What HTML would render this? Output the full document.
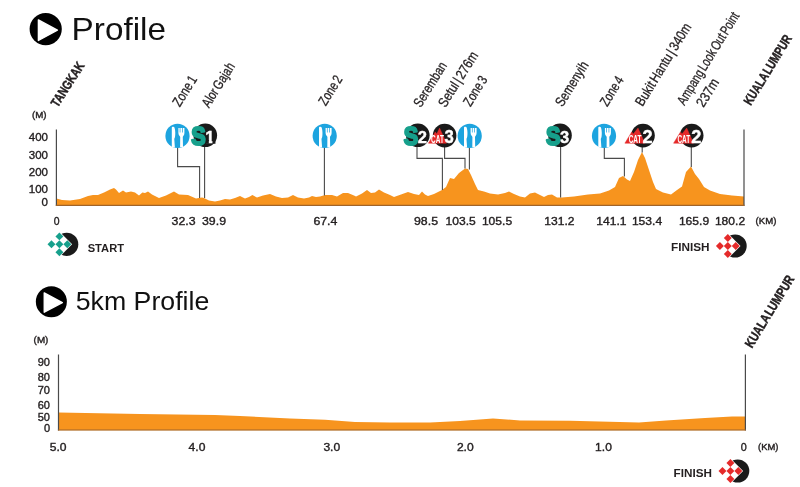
<!DOCTYPE html>
<html lang="en"><head><meta charset="utf-8"><title>Profile</title>
<style>html,body{margin:0;padding:0;background:#fff;}body{width:800px;height:487px;overflow:hidden;}svg{display:block;font-family:"Liberation Sans",sans-serif;}</style>
</head><body>
<svg width="800" height="487" viewBox="0 0 800 487">
<rect width="800" height="487" fill="#fff"/>
<circle cx="45.70" cy="29.10" r="16.10" fill="#000"/>
<path d="M38.40,19.90 L38.40,40.50 L57.40,30.20 Z" fill="#fff" stroke="#fff" stroke-width="1.4" stroke-linejoin="round"/>
<text x="71.6" y="40.1" font-size="31.2" fill="#111" textLength="94.4" lengthAdjust="spacingAndGlyphs">Profile</text>
<circle cx="51.35" cy="301.70" r="15.50" fill="#000"/>
<path d="M44.25,292.90 L44.25,312.20 L62.36,302.55 Z" fill="#fff" stroke="#fff" stroke-width="1.4" stroke-linejoin="round"/>
<text x="75.7" y="310" font-size="26.2" fill="#111" textLength="133.6" lengthAdjust="spacingAndGlyphs">5km Profile</text>
<path d="M56.4,205.8 L56.4,198.6 L62.0,200.0 L70.0,200.4 L80.0,199.0 L88.0,196.0 L93.0,195.0 L98.0,195.0 L104.0,192.4 L110.0,189.4 L114.0,188.0 L116.0,189.4 L119.0,193.0 L123.0,190.6 L126.0,192.6 L131.0,191.6 L135.0,192.6 L139.0,195.6 L142.4,192.4 L145.0,193.0 L148.0,191.6 L152.0,194.4 L159.0,198.0 L166.0,195.6 L174.0,191.6 L179.0,194.4 L188.0,195.0 L196.0,198.6 L202.0,197.4 L204.0,198.0 L209.0,200.4 L215.0,201.6 L220.0,200.4 L225.0,199.0 L230.0,199.4 L235.0,198.0 L240.0,196.0 L245.0,198.6 L249.0,197.0 L252.4,195.0 L257.0,197.6 L263.0,195.6 L270.0,194.0 L276.0,196.4 L282.0,198.0 L288.0,197.6 L293.0,195.0 L298.0,197.4 L304.0,198.6 L309.0,197.6 L312.0,196.0 L316.0,197.0 L320.0,196.4 L325.0,195.0 L332.0,195.0 L337.0,196.4 L343.0,193.0 L348.0,193.0 L354.0,195.6 L356.0,196.4 L362.0,193.6 L367.0,190.0 L371.0,193.0 L375.0,192.4 L379.0,189.4 L384.0,192.4 L390.0,195.0 L394.0,197.0 L401.0,194.4 L408.0,192.0 L414.0,194.0 L419.0,195.0 L422.0,191.6 L425.0,194.4 L428.0,196.0 L434.0,194.0 L442.0,190.0 L446.0,187.0 L450.0,178.0 L454.0,179.0 L459.0,173.0 L465.0,168.4 L468.0,169.0 L471.0,175.0 L475.0,184.0 L478.0,190.0 L484.0,191.6 L490.0,193.6 L498.0,194.4 L505.0,193.0 L509.0,191.4 L514.0,194.0 L520.0,196.4 L525.0,197.4 L530.0,193.6 L535.0,192.6 L540.0,195.0 L544.0,197.0 L548.0,195.0 L552.0,194.6 L557.0,197.4 L562.0,197.4 L574.0,196.4 L588.0,194.4 L600.0,193.4 L609.0,190.6 L615.0,187.0 L619.0,178.0 L623.0,176.0 L627.0,179.6 L630.0,181.0 L634.0,172.0 L638.0,160.0 L642.0,152.0 L645.0,158.0 L649.0,170.0 L653.0,182.0 L656.0,189.0 L663.0,192.4 L671.0,194.4 L677.0,190.0 L682.0,186.4 L686.0,172.0 L691.0,166.6 L695.0,174.0 L699.0,179.0 L704.0,187.0 L710.0,190.6 L720.0,194.0 L732.0,195.4 L744.0,196.4 L744.0,205.8 Z" fill="#F7941E"/>
<path d="M56.4,129.5 V205.8 M744,129.5 V205.8" stroke="#4a4a4a" stroke-width="1.2" fill="none"/>
<path d="M55.8,205.4 H744.6" stroke="#a0642a" stroke-width="1.2" fill="none"/>
<path d="M177.6,140 V166.6 H199.6 V198 M204.6,140 V198 M324.4,140 V195.4 M417,140 V158.4 H442.4 V190 M444.6,140 V158.4 H465 V168.6 M469.4,140 V169.5 M560.6,140 V197.4 M604.3,140 V158.4 H624.4 V176.5 M642.2,140 V152.5 M691.3,140 V167" stroke="#4a4a4a" stroke-width="1.1" fill="none"/>
<text x="32.0" y="117.7" font-size="9" fill="#231f20" textLength="14.6" lengthAdjust="spacingAndGlyphs" stroke="#231f20" stroke-width="0.38">(M)</text>
<text x="48.0" y="141.2" font-size="11.5" fill="#231f20" text-anchor="end" stroke="#231f20" stroke-width="0.38">400</text>
<text x="48.0" y="158.8" font-size="11.5" fill="#231f20" text-anchor="end" stroke="#231f20" stroke-width="0.38">300</text>
<text x="48.0" y="176.0" font-size="11.5" fill="#231f20" text-anchor="end" stroke="#231f20" stroke-width="0.38">200</text>
<text x="48.0" y="193.3" font-size="11.5" fill="#231f20" text-anchor="end" stroke="#231f20" stroke-width="0.38">100</text>
<text x="48.0" y="206.2" font-size="11.5" fill="#231f20" text-anchor="end" stroke="#231f20" stroke-width="0.38">0</text>
<text x="53.7" y="225.4" font-size="11.5" fill="#231f20" textLength="5.8" lengthAdjust="spacingAndGlyphs" stroke="#231f20" stroke-width="0.38">0</text>
<text x="171.6" y="225.4" font-size="11.5" fill="#231f20" textLength="24.0" lengthAdjust="spacingAndGlyphs" stroke="#231f20" stroke-width="0.38">32.3</text>
<text x="202.0" y="225.4" font-size="11.5" fill="#231f20" textLength="24.0" lengthAdjust="spacingAndGlyphs" stroke="#231f20" stroke-width="0.38">39.9</text>
<text x="313.4" y="225.4" font-size="11.5" fill="#231f20" textLength="24.0" lengthAdjust="spacingAndGlyphs" stroke="#231f20" stroke-width="0.38">67.4</text>
<text x="414.0" y="225.4" font-size="11.5" fill="#231f20" textLength="24.0" lengthAdjust="spacingAndGlyphs" stroke="#231f20" stroke-width="0.38">98.5</text>
<text x="445.5" y="225.4" font-size="11.5" fill="#231f20" textLength="30.2" lengthAdjust="spacingAndGlyphs" stroke="#231f20" stroke-width="0.38">103.5</text>
<text x="481.9" y="225.4" font-size="11.5" fill="#231f20" textLength="30.2" lengthAdjust="spacingAndGlyphs" stroke="#231f20" stroke-width="0.38">105.5</text>
<text x="544.3" y="225.4" font-size="11.5" fill="#231f20" textLength="30.2" lengthAdjust="spacingAndGlyphs" stroke="#231f20" stroke-width="0.38">131.2</text>
<text x="596.3" y="225.4" font-size="11.5" fill="#231f20" textLength="30.2" lengthAdjust="spacingAndGlyphs" stroke="#231f20" stroke-width="0.38">141.1</text>
<text x="631.9" y="225.4" font-size="11.5" fill="#231f20" textLength="30.2" lengthAdjust="spacingAndGlyphs" stroke="#231f20" stroke-width="0.38">153.4</text>
<text x="678.9" y="225.4" font-size="11.5" fill="#231f20" textLength="30.2" lengthAdjust="spacingAndGlyphs" stroke="#231f20" stroke-width="0.38">165.9</text>
<text x="714.9" y="225.4" font-size="11.5" fill="#231f20" textLength="30.2" lengthAdjust="spacingAndGlyphs" stroke="#231f20" stroke-width="0.38">180.2</text>
<text x="755.6" y="224.2" font-size="9" fill="#231f20" textLength="20.8" lengthAdjust="spacingAndGlyphs" stroke="#231f20" stroke-width="0.38">(KM)</text>
<g transform="translate(177.5,135.9)"><circle r="12.1" fill="#1DA4DF"/><path d="M-5.7,-8.2 C-5.7,-9.4 -3.5,-9.5 -2.9,-8 C-2.0,-5.5 -2.1,-1 -2.5,1 C-2.8,2.2 -3.2,2.6 -3.2,3.4 L-2.6,11.5 L-5.7,11.5 Z" fill="#fff"/><path d="M0.9,-8.0 L2.2,-8.0 L2.2,-3.4 L2.9,-3.4 L2.9,-8.0 L4.6,-8.0 L4.6,-3.4 L5.3,-3.4 L5.3,-8.0 L6.9,-8.0 L6.9,-2.8 C6.9,-0.2 5.5,-0.1 5.3,1.2 L5.5,11.4 L2.6,11.4 L2.7,1.2 C2.5,-0.1 0.9,-0.2 0.9,-2.8 Z" fill="#fff"/></g>
<g transform="translate(324.7,135.9)"><circle r="12.1" fill="#1DA4DF"/><path d="M-5.7,-8.2 C-5.7,-9.4 -3.5,-9.5 -2.9,-8 C-2.0,-5.5 -2.1,-1 -2.5,1 C-2.8,2.2 -3.2,2.6 -3.2,3.4 L-2.6,11.5 L-5.7,11.5 Z" fill="#fff"/><path d="M0.9,-8.0 L2.2,-8.0 L2.2,-3.4 L2.9,-3.4 L2.9,-8.0 L4.6,-8.0 L4.6,-3.4 L5.3,-3.4 L5.3,-8.0 L6.9,-8.0 L6.9,-2.8 C6.9,-0.2 5.5,-0.1 5.3,1.2 L5.5,11.4 L2.6,11.4 L2.7,1.2 C2.5,-0.1 0.9,-0.2 0.9,-2.8 Z" fill="#fff"/></g>
<g transform="translate(469.7,135.9)"><circle r="12.1" fill="#1DA4DF"/><path d="M-5.7,-8.2 C-5.7,-9.4 -3.5,-9.5 -2.9,-8 C-2.0,-5.5 -2.1,-1 -2.5,1 C-2.8,2.2 -3.2,2.6 -3.2,3.4 L-2.6,11.5 L-5.7,11.5 Z" fill="#fff"/><path d="M0.9,-8.0 L2.2,-8.0 L2.2,-3.4 L2.9,-3.4 L2.9,-8.0 L4.6,-8.0 L4.6,-3.4 L5.3,-3.4 L5.3,-8.0 L6.9,-8.0 L6.9,-2.8 C6.9,-0.2 5.5,-0.1 5.3,1.2 L5.5,11.4 L2.6,11.4 L2.7,1.2 C2.5,-0.1 0.9,-0.2 0.9,-2.8 Z" fill="#fff"/></g>
<g transform="translate(604.0,135.9)"><circle r="12.1" fill="#1DA4DF"/><path d="M-5.7,-8.2 C-5.7,-9.4 -3.5,-9.5 -2.9,-8 C-2.0,-5.5 -2.1,-1 -2.5,1 C-2.8,2.2 -3.2,2.6 -3.2,3.4 L-2.6,11.5 L-5.7,11.5 Z" fill="#fff"/><path d="M0.9,-8.0 L2.2,-8.0 L2.2,-3.4 L2.9,-3.4 L2.9,-8.0 L4.6,-8.0 L4.6,-3.4 L5.3,-3.4 L5.3,-8.0 L6.9,-8.0 L6.9,-2.8 C6.9,-0.2 5.5,-0.1 5.3,1.2 L5.5,11.4 L2.6,11.4 L2.7,1.2 C2.5,-0.1 0.9,-0.2 0.9,-2.8 Z" fill="#fff"/></g>
<circle cx="205.3" cy="135.3" r="11.8" fill="#1a1a1a"/>
<text id="SN1" x="209.90" y="142.50" font-size="16.5" font-weight="bold" fill="#fff" stroke="#fff" stroke-width="0.4" text-anchor="middle">1</text>
<path d="M204.90,140.1 h3.9 v3.6 h-3.9 Z M212.45,140.1 h3 v3.6 h-3 Z" fill="#1a1a1a"/>
<text id="S1" transform="translate(198.50,144.50) scale(0.830,1)" font-size="26" font-weight="bold" fill="#17A08C" stroke="#17A08C" stroke-width="2.2" stroke-linejoin="round" text-anchor="middle">S</text>
<circle cx="417.8" cy="135.3" r="11.8" fill="#1a1a1a"/>
<text id="SN2" x="422.40" y="142.50" font-size="16.5" font-weight="bold" fill="#fff" stroke="#fff" stroke-width="0.4" text-anchor="middle">2</text>
<text id="S2" transform="translate(411.00,144.50) scale(0.830,1)" font-size="26" font-weight="bold" fill="#17A08C" stroke="#17A08C" stroke-width="2.2" stroke-linejoin="round" text-anchor="middle">S</text>
<circle cx="560.0" cy="135.3" r="11.8" fill="#1a1a1a"/>
<text id="SN3" x="564.60" y="142.50" font-size="16.5" font-weight="bold" fill="#fff" stroke="#fff" stroke-width="0.4" text-anchor="middle">3</text>
<text id="S3" transform="translate(553.20,144.50) scale(0.830,1)" font-size="26" font-weight="bold" fill="#17A08C" stroke="#17A08C" stroke-width="2.2" stroke-linejoin="round" text-anchor="middle">S</text>
<circle cx="444.6" cy="135.6" r="11.8" fill="#1a1a1a"/>
<path d="M428.4,143.2 L435.3,131.9 L436.8,134 L439.6,128.1 L446.4,143.2 Z" fill="#E52A2A" stroke="#E52A2A" stroke-width="0.5" stroke-linejoin="round"/>
<text id="CT1" x="431.10" y="142.70" font-size="10.3" font-weight="bold" fill="#fff" textLength="12.80" lengthAdjust="spacingAndGlyphs">CAT</text>
<text id="CN1" transform="translate(449.10,142.80) scale(0.920,1)" font-size="18.2" font-weight="bold" fill="#fff" stroke="#fff" stroke-width="0.4" text-anchor="middle">3</text>
<circle cx="643.0" cy="135.6" r="11.8" fill="#1a1a1a"/>
<path d="M624.9,143.2 L631.8,131.9 L633.3,134 L638.0,128.1 L644.8,143.2 Z" fill="#E52A2A" stroke="#E52A2A" stroke-width="0.5" stroke-linejoin="round"/>
<text id="CT2" x="628.70" y="142.70" font-size="10.3" font-weight="bold" fill="#fff" textLength="12.80" lengthAdjust="spacingAndGlyphs">CAT</text>
<text id="CN2" transform="translate(647.50,142.80) scale(1.000,1)" font-size="18.2" font-weight="bold" fill="#fff" stroke="#fff" stroke-width="0.4" text-anchor="middle">2</text>
<circle cx="691.7" cy="135.6" r="11.8" fill="#1a1a1a"/>
<path d="M673.6,143.2 L680.5,131.9 L682.0,134 L686.7,128.1 L693.5,143.2 Z" fill="#E52A2A" stroke="#E52A2A" stroke-width="0.5" stroke-linejoin="round"/>
<text id="CT3" x="677.40" y="142.70" font-size="10.3" font-weight="bold" fill="#fff" textLength="12.80" lengthAdjust="spacingAndGlyphs">CAT</text>
<text id="CN3" transform="translate(696.20,142.80) scale(1.000,1)" font-size="18.2" font-weight="bold" fill="#fff" stroke="#fff" stroke-width="0.4" text-anchor="middle">2</text>
<text id="lb_TANGKAK" class="rl" transform="translate(57.80,107.90) rotate(-57.50)" font-size="13.3" font-weight="bold" fill="#231f20" stroke="#231f20" stroke-width="0.45" word-spacing="-2.0" textLength="50.37" lengthAdjust="spacingAndGlyphs">TANGKAK</text>
<text id="lb_Zone1" class="rl" transform="translate(179.80,107.60) rotate(-58.00)" font-size="14" fill="#231f20" stroke="#231f20" stroke-width="0.3" word-spacing="-1.8" textLength="33.56" lengthAdjust="spacingAndGlyphs">Zone 1</text>
<text id="lb_Alor" class="rl" transform="translate(209.00,108.40) rotate(-58.00)" font-size="14" fill="#231f20" stroke="#231f20" stroke-width="0.3" word-spacing="-1.8" textLength="49.75" lengthAdjust="spacingAndGlyphs">Alor Gajah</text>
<text id="lb_Zone2" class="rl" transform="translate(325.80,106.40) rotate(-58.00)" font-size="14" fill="#231f20" stroke="#231f20" stroke-width="0.3" word-spacing="-1.8" textLength="32.22" lengthAdjust="spacingAndGlyphs">Zone 2</text>
<text id="lb_Seremban" class="rl" transform="translate(420.80,108.20) rotate(-58.00)" font-size="14" fill="#231f20" stroke="#231f20" stroke-width="0.3" word-spacing="-1.8" textLength="50.28" lengthAdjust="spacingAndGlyphs">Seremban</text>
<text id="lb_Setul" class="rl" transform="translate(445.40,108.20) rotate(-58.00)" font-size="14" fill="#231f20" stroke="#231f20" stroke-width="0.3" word-spacing="-1.8" textLength="62.60" lengthAdjust="spacingAndGlyphs">Setul | 276m</text>
<text id="lb_Zone3" class="rl" transform="translate(470.60,107.20) rotate(-58.00)" font-size="14" fill="#231f20" stroke="#231f20" stroke-width="0.3" word-spacing="-1.8" textLength="32.54" lengthAdjust="spacingAndGlyphs">Zone 3</text>
<text id="lb_Semenyih" class="rl" transform="translate(562.40,107.50) rotate(-58.00)" font-size="14" fill="#231f20" stroke="#231f20" stroke-width="0.3" word-spacing="-1.8" textLength="50.11" lengthAdjust="spacingAndGlyphs">Semenyih</text>
<text id="lb_Zone4" class="rl" transform="translate(607.20,107.20) rotate(-58.00)" font-size="14" fill="#231f20" stroke="#231f20" stroke-width="0.3" word-spacing="-1.8" textLength="32.07" lengthAdjust="spacingAndGlyphs">Zone 4</text>
<text id="lb_Bukit" class="rl" transform="translate(642.60,107.00) rotate(-58.50)" font-size="14" fill="#231f20" stroke="#231f20" stroke-width="0.3" word-spacing="-1.8" textLength="93.99" lengthAdjust="spacingAndGlyphs">Bukit Hantu | 340m</text>
<text id="lb_Ampang" class="rl" transform="translate(684.40,106.00) rotate(-58.50)" font-size="14" fill="#231f20" stroke="#231f20" stroke-width="0.3" word-spacing="-1.8" textLength="105.88" lengthAdjust="spacingAndGlyphs">Ampang Look Out Point</text>
<text id="lb_237m" class="rl" transform="translate(703.60,108.00) rotate(-58.50)" font-size="14" fill="#231f20" stroke="#231f20" stroke-width="0.3" word-spacing="-1.8" textLength="30.49" lengthAdjust="spacingAndGlyphs">237m</text>
<text id="lb_KL1" class="rl" transform="translate(750.80,106.10) rotate(-58.50)" font-size="13.3" font-weight="bold" fill="#231f20" stroke="#231f20" stroke-width="0.45" word-spacing="-2.0" textLength="79.56" lengthAdjust="spacingAndGlyphs">KUALA LUMPUR</text>
<circle cx="66.7" cy="244.3" r="11.6" fill="#1a1a1a"/>
<g transform="translate(59.4,244.3) rotate(45)">
<rect x="-9.00" y="-9.00" width="18.00" height="18.00" fill="#fff"/>
<rect x="-8.40" y="-8.40" width="5.60" height="5.60" fill="#17A08C"/>
<rect x="-8.40" y="2.80" width="5.60" height="5.60" fill="#17A08C"/>
<rect x="-2.80" y="-2.80" width="5.60" height="5.60" fill="#17A08C"/>
<rect x="2.80" y="-8.40" width="5.60" height="5.60" fill="#17A08C"/>
<rect x="2.80" y="2.80" width="5.60" height="5.60" fill="#17A08C"/>
</g>
<text x="87.7" y="251.5" font-size="11.5" fill="#231f20" font-weight="bold" textLength="36.3" lengthAdjust="spacingAndGlyphs">START</text>
<circle cx="735.1" cy="246.0" r="11.6" fill="#1a1a1a"/>
<g transform="translate(727.8,246.0) rotate(45)">
<rect x="-9.00" y="-9.00" width="18.00" height="18.00" fill="#fff"/>
<rect x="-8.40" y="-8.40" width="5.60" height="5.60" fill="#E52A2A"/>
<rect x="-8.40" y="2.80" width="5.60" height="5.60" fill="#E52A2A"/>
<rect x="-2.80" y="-2.80" width="5.60" height="5.60" fill="#E52A2A"/>
<rect x="2.80" y="-8.40" width="5.60" height="5.60" fill="#E52A2A"/>
<rect x="2.80" y="2.80" width="5.60" height="5.60" fill="#E52A2A"/>
</g>
<text x="671.0" y="251.0" font-size="11.5" fill="#231f20" font-weight="bold" textLength="38.6" lengthAdjust="spacingAndGlyphs">FINISH</text>
<circle cx="737.7" cy="471.0" r="11.6" fill="#1a1a1a"/>
<g transform="translate(730.4,471.0) rotate(45)">
<rect x="-9.00" y="-9.00" width="18.00" height="18.00" fill="#fff"/>
<rect x="-8.40" y="-8.40" width="5.60" height="5.60" fill="#E52A2A"/>
<rect x="-8.40" y="2.80" width="5.60" height="5.60" fill="#E52A2A"/>
<rect x="-2.80" y="-2.80" width="5.60" height="5.60" fill="#E52A2A"/>
<rect x="2.80" y="-8.40" width="5.60" height="5.60" fill="#E52A2A"/>
<rect x="2.80" y="2.80" width="5.60" height="5.60" fill="#E52A2A"/>
</g>
<text x="673.6" y="476.6" font-size="11.5" fill="#231f20" font-weight="bold" textLength="38.4" lengthAdjust="spacingAndGlyphs">FINISH</text>
<path d="M58.4,430.2 L58.4,412.6 L140.0,414.0 L215.0,415.0 L240.0,416.0 L290.0,418.6 L325.0,419.8 L355.0,422.0 L390.0,422.5 L430.0,422.5 L460.0,421.0 L493.0,418.6 L520.0,420.4 L570.0,420.7 L639.0,422.5 L666.0,420.4 L705.0,418.0 L732.0,416.5 L745.0,416.5 L745.0,430.2 Z" fill="#F7941E"/>
<path d="M58.5,354.5 V430.4 M745.4,354.5 V430.4" stroke="#4a4a4a" stroke-width="1.2" fill="none"/>
<path d="M57.9,430 H746" stroke="#a0642a" stroke-width="1.2" fill="none"/>
<text x="33.6" y="343.4" font-size="9" fill="#231f20" textLength="14.8" lengthAdjust="spacingAndGlyphs" stroke="#231f20" stroke-width="0.38">(M)</text>
<text x="50.0" y="366.0" font-size="11" fill="#231f20" text-anchor="end" stroke="#231f20" stroke-width="0.38">90</text>
<text x="50.0" y="380.8" font-size="11" fill="#231f20" text-anchor="end" stroke="#231f20" stroke-width="0.38">80</text>
<text x="50.0" y="394.0" font-size="11" fill="#231f20" text-anchor="end" stroke="#231f20" stroke-width="0.38">70</text>
<text x="50.0" y="409.2" font-size="11" fill="#231f20" text-anchor="end" stroke="#231f20" stroke-width="0.38">60</text>
<text x="50.0" y="421.0" font-size="11" fill="#231f20" text-anchor="end" stroke="#231f20" stroke-width="0.38">50</text>
<text x="50.0" y="432.1" font-size="11" fill="#231f20" text-anchor="end" stroke="#231f20" stroke-width="0.38">0</text>
<text x="49.8" y="450.6" font-size="11.5" fill="#231f20" textLength="16.8" lengthAdjust="spacingAndGlyphs" stroke="#231f20" stroke-width="0.38">5.0</text>
<text x="188.6" y="450.6" font-size="11.5" fill="#231f20" textLength="16.8" lengthAdjust="spacingAndGlyphs" stroke="#231f20" stroke-width="0.38">4.0</text>
<text x="323.4" y="450.6" font-size="11.5" fill="#231f20" textLength="16.8" lengthAdjust="spacingAndGlyphs" stroke="#231f20" stroke-width="0.38">3.0</text>
<text x="456.9" y="450.6" font-size="11.5" fill="#231f20" textLength="16.8" lengthAdjust="spacingAndGlyphs" stroke="#231f20" stroke-width="0.38">2.0</text>
<text x="595.1" y="450.6" font-size="11.5" fill="#231f20" textLength="16.8" lengthAdjust="spacingAndGlyphs" stroke="#231f20" stroke-width="0.38">1.0</text>
<text x="740.7" y="450.6" font-size="11.5" fill="#231f20" textLength="6.0" lengthAdjust="spacingAndGlyphs" stroke="#231f20" stroke-width="0.38">0</text>
<text x="758.0" y="449.9" font-size="9" fill="#231f20" textLength="20.4" lengthAdjust="spacingAndGlyphs" stroke="#231f20" stroke-width="0.38">(KM)</text>
<text id="lb_KL2" class="rl" transform="translate(752.00,348.70) rotate(-58.50)" font-size="13.3" font-weight="bold" fill="#231f20" stroke="#231f20" stroke-width="0.45" word-spacing="-2.0" textLength="81.88" lengthAdjust="spacingAndGlyphs">KUALA LUMPUR</text>
</svg>
</body></html>
